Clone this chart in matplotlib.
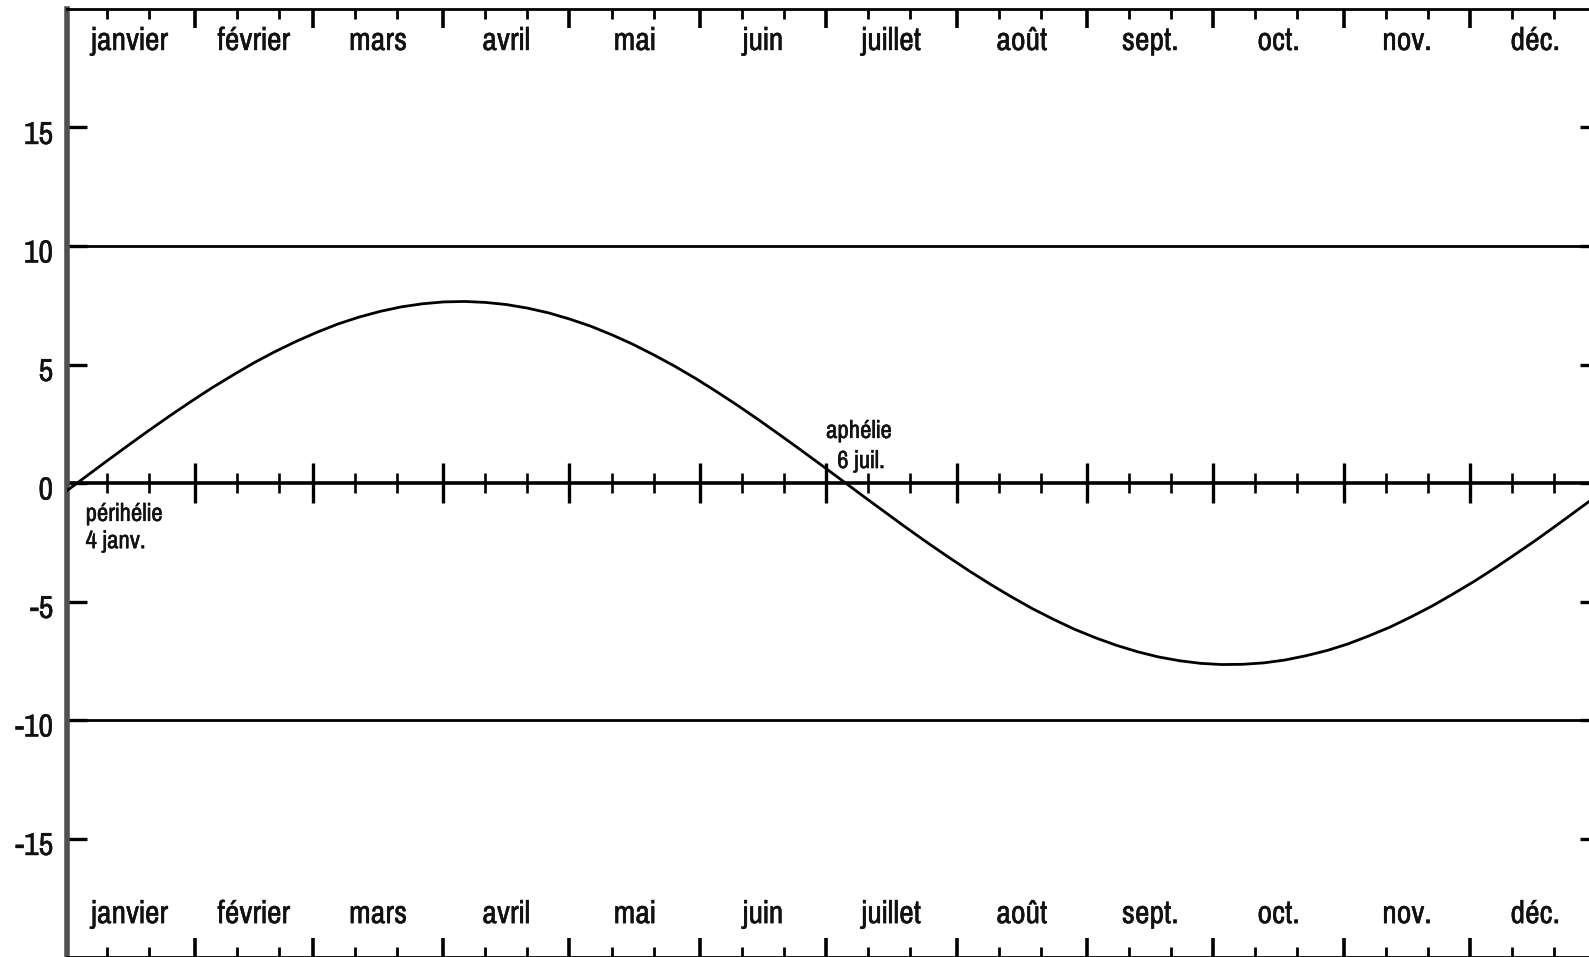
import matplotlib
matplotlib.use('Agg')
import matplotlib.pyplot as plt
import matplotlib.patheffects as pe
from matplotlib.ticker import FixedLocator, NullFormatter
from matplotlib.transforms import ScaledTranslation

# ---- data ----
months = ['janvier', 'février', 'mars', 'avril', 'mai', 'juin', 'juillet',
          'août', 'sept.', 'oct.', 'nov.', 'déc.']
month_start = [0, 31, 59, 90, 120, 151, 181, 212, 243, 273, 304, 334]
month_len = [31, 28, 31, 30, 31, 30, 31, 31, 30, 31, 30, 31]

days = [0, 5, 10, 15, 20, 25, 30, 35, 40, 45, 50, 55, 60, 65, 70, 75, 80, 85,
        90, 95, 100, 105, 110, 115, 120, 125, 130, 135, 140, 145, 150, 155,
        160, 165, 170, 175, 180, 185, 190, 195, 200, 205, 210, 215, 220, 225,
        230, 235, 240, 245, 250, 255, 260, 265, 270, 275, 280, 285, 290, 295,
        300, 305, 310, 315, 320, 325, 330, 335, 340, 345, 350, 355, 360, 365]
values = [-0.40, 0.26, 0.92, 1.57, 2.21, 2.83, 3.43, 4.01, 4.55, 5.07, 5.54,
          5.97, 6.36, 6.71, 7.00, 7.24, 7.43, 7.56, 7.64, 7.66, 7.62, 7.53,
          7.38, 7.18, 6.92, 6.62, 6.26, 5.86, 5.41, 4.93, 4.41, 3.85, 3.27,
          2.66, 2.03, 1.39, 0.74, 0.08, -0.58, -1.23, -1.88, -2.51, -3.12,
          -3.71, -4.27, -4.80, -5.30, -5.75, -6.17, -6.53, -6.85, -7.12, -7.34,
          -7.50, -7.61, -7.66, -7.65, -7.59, -7.47, -7.29, -7.07, -6.79, -6.45,
          -6.08, -5.65, -5.19, -4.68, -4.15, -3.58, -2.98, -2.37, -1.73, -1.08,
          -0.43]

yticks = [-15, -10, -5, 0, 5, 10, 15]
ref_lines = [10, -10]
peri_lines = ['périhélie', '4 janv.']
aph_lines = ['aphélie', '6 juil.']
peri_day = 5.0
aph_day = 188.8

NARROW = ['Pragati Narrow', 'Archivo Narrow', 'Liberation Sans', 'DejaVu Sans']
THICK = [pe.withStroke(linewidth=0.3, foreground='#111111')]

W, H = 1589, 957
fig = plt.figure(figsize=(W / 100, H / 100), dpi=100)
left = 67 / W
right = 1600 / W
top = 1 - 9 / H
ax = fig.add_axes([left, 0.0, right - left, top])
ax.set_xlim(0.6, 364.9)
ax.set_ylim(-20, 20)

# spines
ax.spines['left'].set_linewidth(4.0)
ax.spines['left'].set_color('#505050')
for s in ['top', 'bottom', 'right']:
    ax.spines[s].set_linewidth(2.0)
    ax.spines[s].set_color('black')

minor_pos = [s + 10 for s in month_start] + [s + 20 for s in month_start]

ax.xaxis.set_major_locator(FixedLocator(month_start))
ax.xaxis.set_minor_locator(FixedLocator(minor_pos))
ax.xaxis.set_major_formatter(NullFormatter())
ax.tick_params(axis='x', which='major', direction='in', top=True, bottom=True,
               length=14, width=2.6, color='black')
ax.tick_params(axis='x', which='minor', direction='in', top=True, bottom=True,
               length=7, width=2.0, color='black')

ax.set_yticks(yticks)
ax.set_yticklabels([str(v) for v in yticks])
ax.tick_params(axis='y', which='major', direction='in', left=True, right=True,
               length=14.4, width=2.4, color='black', pad=10)
shift = ScaledTranslation(0, -5 / 100, fig.dpi_scale_trans)
for lab in ax.get_yticklabels():
    lab.set_family(NARROW)
    lab.set_fontsize(25)
    lab.set_color('#111111')
    lab.set_path_effects(THICK)
    lab.set_transform(lab.get_transform() + shift)

# reference lines at +/-10
for v in ref_lines:
    ax.axhline(v, color='black', lw=2.0, zorder=2)

# zero axis with ticks
ax.axhline(0, color='black', lw=2.6, zorder=2)
ax.vlines(month_start, -0.84, 0.84, color='black', lw=2.4, zorder=2)
ax.vlines(minor_pos, -0.42, 0.42, color='black', lw=1.9, zorder=2)

# curve
ax.plot(days, values, color='black', lw=2.0, zorder=3,
        solid_joinstyle='round')

# month labels top and bottom
for s, n, name in zip(month_start, month_len, months):
    xc = s + n / 2
    ax.text(xc, 18.27, name, ha='center', va='baseline', fontsize=25,
            family=NARROW, color='#111111', path_effects=THICK)
    ax.text(xc, -18.57, name, ha='center', va='baseline', fontsize=25,
            family=NARROW, color='#111111', path_effects=THICK)

# annotations
ax.text(peri_day, -1.60, peri_lines[0], ha='left', va='baseline',
        fontsize=19.5, family=NARROW, color='#111111', path_effects=THICK)
ax.text(peri_day, -2.75, peri_lines[1], ha='left', va='baseline',
        fontsize=19.5, family=NARROW, color='#111111', path_effects=THICK)
ax.text(aph_day, 1.90, aph_lines[0], ha='center', va='baseline',
        fontsize=19.5, family=NARROW, color='#111111', path_effects=THICK)
ax.text(aph_day + 0.5, 0.63, aph_lines[1], ha='center', va='baseline',
        fontsize=19.5, family=NARROW, color='#111111', path_effects=THICK)

fig.savefig('out.png', dpi=100)
